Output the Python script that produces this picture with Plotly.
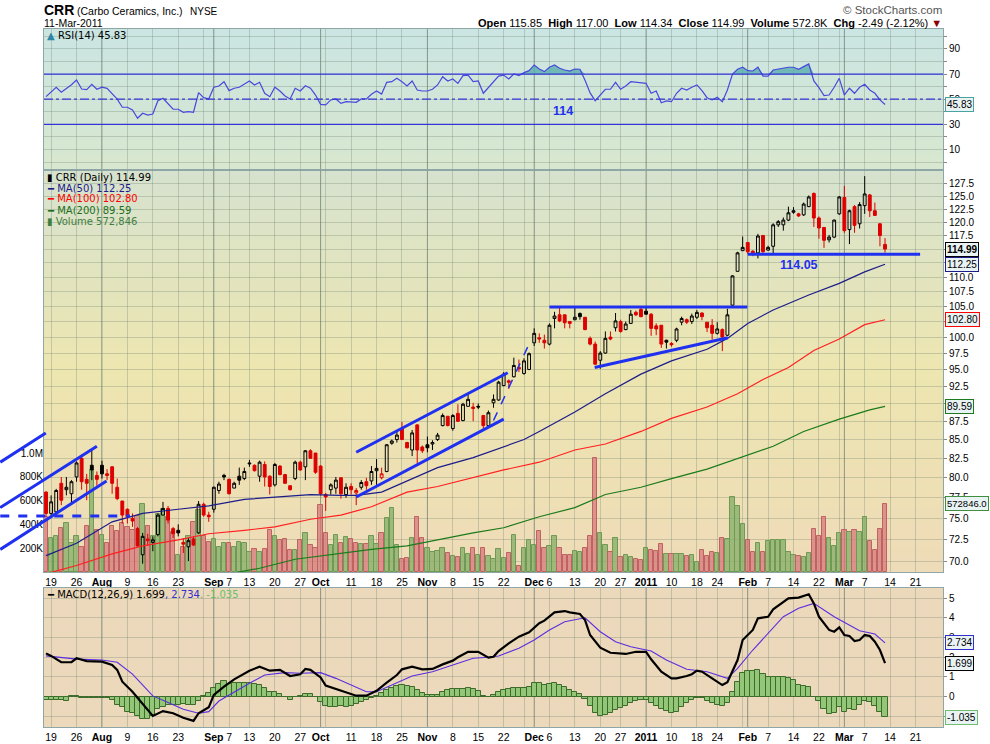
import numpy as np
import plotly.graph_objects as go

# CRR daily, trading-day index 0 = 16-Jul-2010 ... 165 = 11-Mar-2011
opens = [78.2, 75.6, 75.8, 79.3, 78.5, 78.0, 80.1, 82.5, 79.8, 81.6,
         80.3, 81.6, 80.5, 81.4, 78.8, 77.1, 76.1, 75.0, 73.8, 70.8,
         72.6, 72.2, 73.1, 75.4, 76.2, 73.8, 73.6, 72.2, 71.7, 72.6,
         73.3, 76.7, 75.4, 76.1, 78.4, 80.3, 79.8, 78.7, 80.2, 79.9,
         81.9, 81.6, 80.2, 81.7, 80.2, 79.1, 81.5, 80.4, 79.0, 79.9,
         82.0, 81.4, 83.5, 83.2, 81.5, 77.9, 78.5, 78.7, 80.0, 77.9,
         78.9, 78.1, 78.8, 79.5, 79.6, 80.9, 80.0, 80.8, 84.5, 85.0,
         86.5, 84.6, 83.6, 87.0, 84.0, 84.3, 84.4, 85.0, 86.9, 88.2,
         86.5, 88.6, 87.6, 89.6, 89.5, 89.6, 88.3, 86.9, 90.1, 90.5,
         92.6, 93.3, 93.9, 95.3, 94.4, 95.0, 99.1, 99.9, 99.5, 98.9,
         103.0, 103.6, 103.6, 102.5, 102.8, 103.8, 103.2, 99.8, 98.9, 96.4,
         97.5, 100.0, 101.5, 102.5, 101.2, 102.2, 104.0, 104.5, 104.2, 103.7,
         101.8, 101.9, 99.5, 99.0, 99.5, 102.4, 102.8, 102.5, 103.2, 103.9,
         102.4, 101.9, 100.6, 101.2, 100.3, 105.2, 111.0, 114.7, 116.2, 114.6,
         114.3, 117.5, 114.8, 115.5, 119.5, 119.5, 120.4, 121.9, 121.6, 121.4,
         123.0, 125.6, 120.8, 119.0, 116.7, 117.2, 121.6, 124.8, 118.6, 123.0,
         119.7, 123.2, 125.3, 122.2, 119.7, 115.85]
highs = [78.3, 77.8, 78.6, 80.1, 80.1, 79.7, 82.1, 83.0, 80.5, 83.5,
         80.8, 82.2, 81.1, 81.5, 79.9, 77.1, 76.2, 75.6, 74.0, 73.3,
         73.2, 72.9, 75.6, 77.0, 76.5, 74.0, 74.3, 72.7, 72.7, 72.9,
         77.1, 76.9, 75.8, 78.9, 79.5, 80.5, 79.9, 79.5, 81.3, 81.3,
         82.3, 81.7, 82.2, 82.1, 80.3, 81.9, 81.6, 80.5, 79.0, 82.2,
         82.2, 83.6, 83.7, 83.2, 81.6, 78.1, 79.3, 80.1, 80.0, 79.3,
         79.3, 78.7, 79.7, 80.0, 81.5, 82.4, 81.3, 84.4, 85.0, 86.2,
         87.4, 84.7, 86.3, 87.1, 84.2, 85.4, 84.9, 85.9, 88.6, 88.2,
         88.5, 89.9, 90.1, 91.3, 90.1, 90.0, 88.4, 89.0, 91.3, 93.3,
         94.6, 93.5, 96.8, 96.5, 96.7, 97.6, 101.4, 100.6, 100.4, 102.2,
         104.1, 104.8, 103.6, 102.6, 105.0, 104.0, 103.2, 100.1, 99.3, 97.8,
         100.9, 100.9, 103.9, 102.8, 102.5, 104.4, 104.3, 104.9, 104.9, 103.9,
         102.2, 101.9, 99.6, 99.2, 101.5, 103.3, 103.0, 103.8, 104.4, 104.0,
         102.4, 102.9, 102.4, 101.4, 104.6, 110.3, 114.5, 117.3, 116.2, 114.8,
         117.8, 117.5, 115.6, 119.8, 120.4, 120.9, 123.0, 122.9, 121.8, 123.8,
         125.2, 125.8, 121.1, 119.0, 117.6, 120.5, 125.1, 127.1, 122.4, 123.3,
         123.9, 129.1, 125.5, 123.8, 119.8, 117.00]
lows = [75.2, 75.3, 75.5, 76.6, 77.8, 76.8, 79.5, 78.5, 77.2, 79.7,
        79.0, 79.9, 79.7, 78.0, 77.2, 74.4, 74.4, 74.0, 71.7, 69.8,
        71.8, 71.2, 72.9, 75.4, 74.4, 72.7, 72.9, 71.0, 70.1, 71.8,
        73.2, 75.2, 74.6, 75.7, 78.0, 79.7, 77.9, 78.7, 79.1, 79.7,
        81.4, 80.8, 79.5, 78.9, 77.9, 78.9, 80.3, 79.3, 78.4, 79.7,
        80.9, 79.7, 82.5, 80.5, 77.8, 75.9, 77.9, 78.0, 77.4, 77.5,
        77.9, 76.6, 78.5, 78.5, 79.1, 79.1, 79.8, 80.7, 84.3, 84.6,
        85.0, 83.8, 82.8, 81.8, 83.2, 83.3, 83.6, 84.8, 86.8, 86.8,
        86.2, 87.4, 87.5, 89.6, 87.5, 89.2, 86.2, 86.8, 89.4, 90.4,
        92.5, 92.1, 93.8, 94.6, 94.2, 94.9, 98.6, 99.1, 98.2, 98.7,
        101.4, 102.4, 101.4, 101.4, 102.7, 102.8, 101.1, 98.7, 95.7, 95.1,
        97.4, 99.5, 100.9, 100.7, 101.1, 102.1, 103.4, 103.2, 103.7, 100.2,
        100.3, 98.3, 98.2, 98.5, 99.2, 101.9, 102.1, 102.1, 102.9, 102.7,
        100.8, 99.6, 100.4, 97.8, 100.2, 105.1, 111.0, 114.7, 114.1, 113.7,
        113.3, 114.3, 114.7, 114.1, 119.1, 118.4, 120.2, 121.6, 121.0, 121.2,
        122.9, 119.1, 116.9, 115.2, 116.2, 117.0, 121.4, 118.0, 115.9, 118.0,
        118.8, 121.6, 121.0, 121.2, 115.5, 114.34]
closes = [75.6, 77.0, 78.4, 77.2, 78.8, 79.5, 81.9, 79.5, 79.3, 81.0,
          79.8, 80.5, 80.3, 79.3, 77.4, 75.4, 75.2, 74.7, 71.8, 72.9,
          72.4, 72.5, 75.4, 76.2, 74.8, 73.2, 73.3, 72.0, 72.4, 71.9,
          76.7, 75.4, 75.2, 78.8, 79.2, 80.1, 78.0, 79.3, 79.7, 80.8,
          81.8, 80.9, 82.0, 80.1, 78.9, 81.7, 80.4, 79.3, 78.5, 82.0,
          81.0, 83.5, 82.5, 80.7, 78.0, 77.6, 79.1, 79.7, 78.0, 78.8,
          78.5, 78.4, 79.4, 79.0, 80.8, 81.2, 80.5, 84.3, 84.8, 85.6,
          85.0, 83.9, 85.9, 83.6, 83.5, 83.9, 84.6, 85.6, 88.3, 86.9,
          88.3, 87.5, 89.9, 90.6, 89.3, 89.5, 86.9, 88.7, 90.6, 93.1,
          94.3, 93.1, 95.6, 95.1, 96.3, 97.4, 100.6, 99.7, 99.1, 101.9,
          103.4, 102.6, 102.3, 102.2, 103.2, 103.3, 101.2, 98.9, 95.8, 97.5,
          99.8, 99.7, 102.6, 100.9, 102.1, 103.7, 103.6, 103.3, 103.7, 101.4,
          101.3, 98.9, 99.2, 98.8, 101.3, 103.0, 102.4, 103.4, 104.0, 103.3,
          101.5, 100.6, 101.3, 100.0, 103.6, 110.2, 114.3, 115.3, 114.5, 114.3,
          117.4, 114.5, 115.3, 119.5, 120.1, 120.4, 121.8, 122.2, 121.2, 123.5,
          124.9, 120.8, 118.9, 116.6, 117.2, 120.4, 124.9, 118.4, 122.2, 119.4,
          123.4, 125.5, 122.2, 121.3, 117.48, 114.99]
volume_k = [460, 290, 300, 370, 415, 240, 305, 210, 385, 860,
            350, 315, 245, 385, 345, 415, 375, 355, 470, 575,
            390, 300, 490, 530, 460, 335, 140, 210, 300, 420,
            520, 300, 250, 275, 210, 245, 240, 210, 250, 245,
            170, 190, 170, 195, 350, 300, 265, 280, 185, 185,
            270, 325, 225, 200, 565, 330, 225, 315, 240, 298,
            278, 244, 238, 238, 306, 238, 326, 451, 536, 226,
            113, 120, 290, 462, 290, 198, 164, 175, 200, 160,
            136, 130, 198, 155, 198, 145, 205, 136, 110, 190,
            120, 157, 312, 51, 198, 270, 230, 343, 198, 220,
            300, 205, 145, 145, 175, 170, 205, 306, 960, 329,
            227, 165, 290, 130, 145, 125, 110, 102, 201, 185,
            180, 236, 151, 151, 151, 151, 137, 145, 80, 188,
            137, 171, 159, 287, 278, 627, 553, 406, 270, 171,
            242, 171, 264, 270, 270, 270, 171, 145, 137, 122,
            159, 363, 306, 463, 287, 222, 329, 349, 340, 349,
            335, 463, 264, 188, 363, 572.846]

# moving averages, read at sparse points (day index, value)
ma50_x = [0, 6, 13, 19, 26, 32, 39, 45, 52, 58, 61, 66, 71, 77, 84, 90, 94, 97, 104, 110,
          117, 123, 130, 134, 138, 143, 150, 156, 161, 165]
ma50_y = [70.7, 72.1, 74.6, 75.6, 76.1, 76.5, 77.3, 77.6, 77.9, 77.8, 77.8, 78.2, 79.6, 81.3,
          82.6, 84.0, 85.0, 86.1, 88.8, 91.4, 94.3, 96.3, 98.1, 99.8, 102.2, 104.4, 106.9,
          108.9, 110.9, 112.25]
ma100_x = [0, 6, 13, 19, 26, 32, 39, 45, 52, 58, 64, 71, 77, 84, 90, 97, 104, 110, 117,
           123, 130, 136, 141, 146, 151, 156, 161, 165]
ma100_y = [68.7, 69.6, 70.9, 71.8, 72.5, 73.2, 73.6, 74.0, 74.9, 75.4, 76.4, 78.2, 78.9,
           80.0, 81.0, 82.0, 83.6, 84.4, 86.1, 87.9, 89.5, 91.4, 93.5, 95.3, 97.9, 99.7,
           102.0, 102.8]
ma200_x = [36, 42, 49, 58, 64, 71, 77, 84, 90, 97, 104, 110, 117, 123, 130, 136, 143, 149,
           156, 162, 165]
ma200_y = [68.7, 69.3, 70.3, 71.0, 71.4, 71.8, 72.5, 73.3, 73.9, 75.2, 76.3, 77.9, 78.8,
           79.9, 81.1, 82.5, 84.1, 86.1, 87.8, 89.1, 89.59]

rsi = [52.0, 55.5, 59.5, 55.5, 58.5, 61.5, 65.3, 58.1, 57.6, 61.8,
       57.9, 59.5, 58.6, 54.5, 50.0, 43.6, 43.6, 41.4, 34.8, 38.8,
       37.4, 38.2, 48.8, 50.7, 46.0, 42.0, 42.0, 39.6, 40.1, 39.6,
       55.2, 51.2, 50.2, 59.5, 60.5, 63.9, 56.8, 58.7, 59.5, 62.0,
       64.5, 61.3, 63.4, 54.7, 52.0, 59.5, 56.5, 52.5, 50.2, 58.7,
       56.5, 60.7, 58.7, 53.3, 45.9, 45.4, 49.4, 50.2, 46.7, 48.0,
       47.8, 47.5, 50.2, 50.2, 53.9, 56.5, 54.1, 63.4, 63.9, 66.6,
       63.9, 60.5, 64.5, 57.3, 56.5, 56.5, 57.9, 61.3, 67.9, 64.5,
       66.1, 62.6, 68.7, 69.2, 63.9, 64.5, 54.7, 59.2, 63.5, 68.4,
       69.2, 66.1, 70.0, 68.7, 71.1, 72.7, 77.2, 74.0, 71.9, 75.4,
       77.2, 74.6, 73.2, 72.4, 74.0, 73.8, 65.0, 55.0, 48.8, 53.3,
       57.9, 57.9, 63.4, 57.9, 60.5, 63.9, 63.5, 63.0, 62.6, 54.7,
       56.5, 47.2, 48.6, 48.0, 54.7, 58.7, 57.3, 59.5, 61.3, 56.8,
       51.2, 49.4, 51.5, 48.0, 57.3, 70.0, 73.8, 75.4, 72.7, 72.4,
       75.4, 68.4, 68.4, 73.2, 74.0, 74.6, 75.4, 75.4, 73.8, 75.9,
       78.0, 64.5, 59.2, 52.8, 53.3, 59.5, 66.6, 53.3, 58.7, 54.7,
       59.5, 61.8, 57.3, 54.7, 49.4, 45.83]

macd_x = [0, 1, 3, 5, 6, 8, 11, 13, 14, 15, 17, 19, 21, 23, 25, 27, 29, 30, 32, 33,
          35, 37, 40, 42, 44, 46, 48, 50, 51, 52, 54, 55, 58, 61, 63, 65, 67, 69, 70, 72,
          74, 76, 78, 80, 81, 83, 85, 87, 88, 89, 91, 93, 95, 97, 98, 100, 102, 103, 105, 106,
          107, 109, 111, 114, 116, 118, 119, 121, 123, 124, 126, 127, 128, 129, 131, 133, 134, 136, 137, 139,
          140, 142, 143, 145, 146, 148, 150, 151, 152, 154, 155, 156, 157, 158, 159, 160, 161, 162, 163, 164,
          165]
macd_y = [2.20, 2.07, 1.75, 1.75, 1.95, 1.81, 1.78, 1.61, 1.36, 0.76, 0.25, -0.34, -0.98, -0.73,
          -0.84, -1.07, -1.23, -0.84, -0.54, 0.09, 0.51, 0.88, 1.32, 1.52, 1.32, 1.36, 1.05,
          1.14, 1.41, 1.36, 0.98, 0.56, 0.30, 0.05, 0.05, 0.30, 0.71, 1.10, 1.39, 1.52, 1.39,
          1.41, 1.64, 1.83, 2.00, 2.28, 2.28, 1.98, 2.03, 2.32, 2.71, 3.05, 3.27, 3.73, 3.86,
          4.28, 4.35, 4.28, 4.20, 3.89, 3.13, 2.49, 2.23, 2.17, 2.28, 2.28, 1.90, 1.27, 0.93,
          0.93, 1.05, 1.14, 1.32, 1.27, 0.93, 0.59, 0.73, 1.86, 2.88, 3.39, 3.98, 4.06, 4.44,
          4.82, 4.99, 5.03, 5.20, 4.74, 4.06, 3.39, 3.30, 3.52, 3.13, 3.08, 2.83, 2.88, 3.13,
          3.08, 2.79, 2.37, 1.699]
signal_x = [0, 6, 11, 14, 17, 21, 24, 27, 30, 32, 34, 37, 40, 43, 47, 50, 54, 57, 60, 63,
            65, 68, 72, 76, 79, 84, 87, 89, 93, 96, 99, 102, 106, 109, 112, 115, 119, 122, 126, 130,
            134, 136, 139, 142, 145, 148, 151, 155, 158, 160, 163, 165]
signal_y = [2.07, 1.91, 1.86, 1.75, 1.15, 0.04, -0.30, -0.64, -0.84, -0.76, -0.22, 0.25, 0.68,
            1.10, 1.22, 1.19, 1.22, 0.93, 0.59, 0.25, 0.25, 0.59, 1.05, 1.27, 1.52, 1.95, 2.00,
            2.07, 2.46, 2.88, 3.39, 3.81, 4.01, 3.30, 2.79, 2.54, 2.32, 1.86, 1.39, 1.27, 0.93,
            1.44, 2.37, 3.22, 4.06, 4.49, 4.74, 4.06, 3.64, 3.35, 3.18, 2.734]
hist = [-0.17, -0.17, -0.17, -0.17, -0.20, 0.03, 0.03, -0.08, -0.08, -0.08,
        -0.08, -0.08, -0.08, -0.17, -0.42, -0.50, -0.76, -0.85, -1.00, -1.13,
        -1.13, -0.96, -0.64, -0.50, -0.42, -0.42, -0.42, -0.39, -0.42, -0.42,
        -0.20, 0.03, 0.20, 0.42, 0.63, 0.80, 0.63, 0.68, 0.68, 0.68,
        0.68, 0.63, 0.59, 0.42, 0.22, 0.22, 0.12, -0.03, -0.17, -0.03,
        0.05, 0.12, 0.12, 0.00, -0.29, -0.47, -0.51, -0.51, -0.47, -0.51,
        -0.46, -0.37, -0.25, -0.17, -0.08, 0.03, 0.20, 0.34, 0.42, 0.54,
        0.59, 0.56, 0.47, 0.34, 0.20, 0.08, 0.08, 0.08, 0.25, 0.34,
        0.37, 0.37, 0.39, 0.46, 0.37, 0.30, 0.03, 0.00, 0.08, 0.25,
        0.34, 0.37, 0.42, 0.42, 0.42, 0.51, 0.68, 0.68, 0.59, 0.63,
        0.68, 0.59, 0.47, 0.34, 0.22, 0.12, -0.14, -0.47, -0.85, -0.98,
        -0.93, -0.81, -0.68, -0.59, -0.47, -0.30, -0.20, -0.17, -0.17, -0.34,
        -0.47, -0.64, -0.71, -0.85, -0.76, -0.51, -0.34, -0.17, -0.05, -0.08,
        -0.20, -0.34, -0.42, -0.47, -0.30, 0.25, 0.76, 1.18, 1.30, 1.30,
        1.35, 1.15, 1.02, 0.98, 0.98, 0.98, 0.93, 0.85, 0.59, 0.54,
        0.47, 0.00, -0.20, -0.64, -0.90, -0.85, -0.51, -0.76, -0.64, -0.68,
        -0.42, -0.22, -0.25, -0.46, -0.76, -1.035]

# x axis: weekly grid, month labels in bold
tick_idx = [1, 6, 11, 16, 21, 26, 31, 33, 36, 40, 45, 50, 54, 55, 60, 65, 70, 75, 80, 85,
            90, 94, 96, 99, 104, 109, 113, 118, 123, 128, 132, 137, 138, 142, 147, 152, 156, 157,
            161, 166, 171]
tick_txt = ["19", "26", "<b>Aug</b>", "9", "16", "23", "", "<b>Sep</b>", "7", "13", "20", "27",
            "<b>Oct</b>", "", "11", "18", "25", "<b>Nov</b>", "8", "15", "22", "", "<b>Dec</b>",
            "6", "13", "20", "27", "<b>2011</b>", "10", "18", "24", "", "<b>Feb</b>", "7", "14",
            "22", "", "<b>Mar</b>", "7", "14", "21"]
month_idx = [11, 33, 54, 75, 96, 118, 138, 157]

# right-hand price labels (those hidden behind the value tags are left blank)
price_ticks = [70 + 2.5 * k for k in range(24)]
price_hidden = [115.0, 112.5, 102.5]

# trendlines drawn on the chart: (day0, price0, day1, price1, dash, width)
trendlines = [
    (-9.0, 82.0, -0.05, 85.9, "solid", 3),
    (-9.0, 76.3, 10.0, 84.1, "solid", 3),
    (-9.0, 71.4, 11.9, 79.6, "solid", 3),
    (-9.0, 75.3, 16.5, 75.3, "dash", 3),
    (61.0, 83.3, 90.8, 94.5, "solid", 3),
    (61.0, 77.6, 90.0, 87.8, "solid", 3),
    (88.0, 87.6, 95.1, 99.1, "dash", 1.5),
    (99.0, 104.9, 137.9, 104.9, "solid", 3),
    (107.9, 95.3, 134.1, 99.9, "solid", 3),
    (138.0, 114.05, 171.9, 114.05, "solid", 3),
]

# ---- geometry ----
X0, X1 = -0.4, 176.4
def py2y(py):
    return (727 - py) / 698.0
def px2x(px):
    return (px - 44) / 899.0
def xp(i):
    return (i - X0) / (X1 - X0)

RSI_D = [py2y(170), 1.0]
MAIN_D = [py2y(572), py2y(170)]
MACD_D = [0.0, py2y(588)]
L0, L1 = np.log10(68.89), np.log10(130.36)
def price_paper(p):
    return MAIN_D[0] + (np.log10(p) - L0) / (L1 - L0) * (MAIN_D[1] - MAIN_D[0])

BLUE = "#1f30f0"
GRID = "rgba(105,125,110,0.30)"
MONTH = "rgba(95,115,105,0.55)"
BORDER = "#8ea6a6"
FONT = "Liberation Sans"
LFONT = "DejaVu Sans"

day = np.arange(len(closes))
c = np.array(closes)
prev = np.r_[np.inf, c[:-1]]
is_red = c < prev

fig = go.Figure()

# volume (base axis of main panel)
vol_fill = np.where(is_red, "rgba(214,118,120,0.72)", "rgba(128,172,98,0.72)")
vol_edge = np.where(is_red, "#c06262", "#6f9a55")
fig.add_trace(go.Bar(x=day, y=np.array(volume_k) * 1000, xaxis="x2", yaxis="y2", width=0.85,
                     marker=dict(color=vol_fill, line=dict(color=vol_edge, width=1)),
                     hoverinfo="skip"))

# moving averages
fig.add_trace(go.Scatter(x=ma200_x, y=ma200_y, xaxis="x2", yaxis="y3", mode="lines",
                         line=dict(color="#1b7a1b", width=1.2), hoverinfo="skip"))
fig.add_trace(go.Scatter(x=ma100_x, y=ma100_y, xaxis="x2", yaxis="y3", mode="lines",
                         line=dict(color="#ff2020", width=1.2), hoverinfo="skip"))
fig.add_trace(go.Scatter(x=ma50_x, y=ma50_y, xaxis="x2", yaxis="y3", mode="lines",
                         line=dict(color="#1c1c8a", width=1.2), hoverinfo="skip"))

# candles: red when close < previous close, filled when close < open
for mask, col in [(is_red, "#dd0000"), (~is_red, "#000000")]:
    fig.add_trace(go.Candlestick(
        x=day[mask], open=np.array(opens)[mask], high=np.array(highs)[mask],
        low=np.array(lows)[mask], close=c[mask], xaxis="x2", yaxis="y3",
        increasing=dict(line=dict(color=col, width=1), fillcolor="rgba(0,0,0,0)"),
        decreasing=dict(line=dict(color=col, width=1), fillcolor=col),
        whiskerwidth=0, hoverinfo="skip"))

# RSI
r = np.array(rsi)
fig.add_trace(go.Scatter(x=day, y=np.full(len(r), 70.0), xaxis="x", yaxis="y", mode="lines",
                         line=dict(width=0), hoverinfo="skip"))
fig.add_trace(go.Scatter(x=day, y=np.maximum(r, 70), xaxis="x", yaxis="y", mode="lines",
                         line=dict(width=0), fill="tonexty", fillcolor="rgba(80,170,170,0.75)",
                         hoverinfo="skip"))
fig.add_trace(go.Scatter(x=day, y=r, xaxis="x", yaxis="y", mode="lines",
                         line=dict(color="#4848dd", width=1.2), hoverinfo="skip"))

# MACD
fig.add_trace(go.Bar(x=day, y=hist, xaxis="x3", yaxis="y4", width=1.0,
                     marker=dict(color="#93c676", line=dict(color="#3c6b2c", width=1)),
                     hoverinfo="skip"))
fig.add_trace(go.Scatter(x=signal_x, y=signal_y, xaxis="x3", yaxis="y4", mode="lines",
                         line=dict(color="#5a2ee0", width=1.1), hoverinfo="skip"))
fig.add_trace(go.Scatter(x=macd_x, y=macd_y, xaxis="x3", yaxis="y4", mode="lines",
                         line=dict(color="#000000", width=2.2), hoverinfo="skip"))

# ---- background gradients ----
def mix(stops, t):
    for (t0, c0), (t1, c1) in zip(stops[:-1], stops[1:]):
        if t <= t1:
            f = (t - t0) / (t1 - t0)
            return "rgb(%d,%d,%d)" % tuple(round(a + (b - a) * f) for a, b in zip(c0, c1))
    return "rgb(%d,%d,%d)" % stops[-1][1]

def bands(dom, stops, n):
    out = []
    h = dom[1] - dom[0]
    for k in range(n):
        y1 = dom[1] - h * k / n
        y0 = dom[1] - h * (k + 1) / n
        out.append(dict(type="rect", xref="paper", yref="paper", x0=0, x1=1, y0=y0,
                        y1=min(dom[1], y1 + 0.002), fillcolor=mix(stops, (k + 0.5) / n),
                        line=dict(width=0), layer="below"))
    return out

shapes = []
shapes += bands(RSI_D, [(0, (202, 229, 226)), (1, (216, 231, 207))], 20)
shapes += bands(MAIN_D, [(0, (214, 226, 207)), (0.5, (237, 230, 176)), (1, (238, 219, 184))], 50)
shapes += bands(MACD_D, [(0, (236, 217, 186)), (1, (236, 215, 187))], 1)

for m in month_idx:
    for dom in (RSI_D, MAIN_D, MACD_D):
        shapes.append(dict(type="line", xref="paper", yref="paper", x0=xp(m), x1=xp(m),
                           y0=dom[0], y1=dom[1], line=dict(color=MONTH, width=1), layer="below"))

for lvl, dash in [(70, "solid"), (30, "solid"), (50, "dashdot")]:
    shapes.append(dict(type="line", xref="paper", yref="y", x0=0, x1=1, y0=lvl, y1=lvl,
                       line=dict(color="#3434d8", width=1.2, dash=dash)))

for d0, p0, d1, p1, dash, w in trendlines:
    shapes.append(dict(type="line", xref="paper", yref="paper", x0=xp(d0), y0=price_paper(p0),
                       x1=xp(d1), y1=price_paper(p1), line=dict(color=BLUE, width=w, dash=dash)))

# ---- texts ----
ann = []
def text(px, py, s, size=10, color="#000", anchor="left", family=FONT):
    ann.append(dict(x=px2x(px), y=py2y(py), xref="paper", yref="paper", text=s, showarrow=False,
                    xanchor=anchor, yanchor="middle", borderpad=0,
                    font=dict(size=size, color=color, family=family)))

text(43, 10, "<b>CRR</b>", 14)
text(76, 11, "(Carbo Ceramics, Inc.)", 10.5)
text(189, 11, "NYSE", 10)
text(43, 23, "11-Mar-2011", 10.5)
text(943, 10, "© StockCharts.com", 11.5, "#555", "right")
text(943, 23, "<b>Open</b> 115.85  <b>High</b> 117.00  <b>Low</b> 114.34  <b>Close</b> 114.99  "
     "<b>Volume</b> 572.8K  <b>Chg</b> -2.49 (-2.12%) <span style='color:#8b0000'>▼</span>",
     11, "#000", "right")

text(46, 36, "<span style='color:#2f86a6'>▲</span> RSI(14) 45.83", 10, family=LFONT)
text(46, 177, "▮ CRR (Daily) 114.99", 10, family=LFONT)
text(46, 188, "<span style='color:#1c1c8a'>━ MA(50) 112.25</span>", 10, family=LFONT)
text(46, 199, "<span style='color:#ff0000'>━ MA(100) 102.80</span>", 10, family=LFONT)
text(46, 210, "<span style='color:#1b6e1b'>━ MA(200) 89.59</span>", 10, family=LFONT)
text(46, 221, "<span style='color:#3f7f3f'>▮ Volume 572,846</span>", 10, family=LFONT)
text(46, 594, "━ MACD(12,26,9) 1.699<span style='color:#3030d0'>, 2.734</span>"
     "<span style='color:#6cbf6c'>, -1.035</span>", 10, family=LFONT)

ann.append(dict(x=148, y=np.log10(112.1), xref="x2", yref="y3", text="<b>114.05</b>",
                showarrow=False, font=dict(size=12.5, color=BLUE, family=FONT)))
ann.append(dict(x=101.6, y=40.6, xref="x", yref="y", text="<b>114</b>",
                showarrow=False, font=dict(size=12.5, color=BLUE, family=FONT)))

def tag(s, y, yref, border, size=10):
    ann.append(dict(x=1, xref="paper", xanchor="left", xshift=2, y=y, yref=yref, text=s,
                    showarrow=False, bgcolor="#e9f3f4", bordercolor=border, borderwidth=1,
                    borderpad=1, font=dict(size=size, color="#000", family=FONT)))

tag("<b>114.99</b>", np.log10(114.99), "y3", "#000000")
tag("112.25", np.log10(112.25), "y3", "#1c1c8a")
tag("102.80", np.log10(102.80), "y3", "#ff0000")
tag("89.59", np.log10(89.59), "y3", "#1b7a1b")
tag("572846.0", 572846, "y2", "#3f8f3f", 9.5)
tag("45.83", 45.83, "y", "#4aa3a3")
tag("2.734", 2.734, "y4", "#3030d0")
tag("1.699", 1.699, "y4", "#000000")
tag("-1.035", -1.035, "y4", "#6cbf6c")

# ---- axes ----
tickfont = dict(size=10, color="#000", family=FONT)
xcommon = dict(range=[X0, X1], tickvals=tick_idx, ticktext=tick_txt, gridcolor=GRID,
               showline=True, mirror=True, linecolor=BORDER, zeroline=False, ticks="",
               tickfont=dict(size=10.5, color="#000", family=FONT), rangeslider=dict(visible=False),
               domain=[0, 1], automargin=False)
ycommon = dict(side="right", gridcolor=GRID, showline=True, mirror=True, linecolor=BORDER,
               zeroline=False, ticks="outside", ticklen=3, tickcolor="#888", tickfont=tickfont,
               automargin=False)

fig.update_layout(
    width=990, height=744, margin=dict(l=44, r=47, t=29, b=17, autoexpand=False),
    paper_bgcolor="white", plot_bgcolor="rgba(0,0,0,0)", showlegend=False,
    boxgap=0.2, bargap=0, shapes=shapes, annotations=ann,
    xaxis=dict(xcommon, anchor="y", showticklabels=False),
    xaxis2=dict(xcommon, anchor="y2", matches="x"),
    xaxis3=dict(xcommon, anchor="y4", matches="x"),
    yaxis=dict(ycommon, domain=RSI_D, range=[-6.3, 105.8], anchor="x",
               tickvals=list(range(0, 101, 10)),
               ticktext=["", "10", "", "30", "", "50", "", "70", "", "90", ""]),
    yaxis2=dict(domain=MAIN_D, range=[0, 3.38e6], anchor="x2", side="left", showgrid=False,
                zeroline=False, showline=False, ticks="", tickfont=tickfont, automargin=False,
                tickvals=[2e5, 4e5, 6e5, 8e5, 1e6], ticktext=["200K", "400K", "600K", "800K", "1.0M"]),
    yaxis3=dict(ycommon, overlaying="y2", anchor="x2", type="log", range=[L0, L1],
                tickvals=price_ticks,
                ticktext=["" if v in price_hidden else "%.1f" % v for v in price_ticks]),
    yaxis4=dict(ycommon, domain=MACD_D, range=[-1.54, 5.52], anchor="x3",
                tickvals=list(range(-1, 6)), ticktext=[""] + [str(v) for v in range(0, 6)]),
)

# page body has a default margin; remove it so the chart sits at the window's corner
fig.write_html("out.html", config={"displayModeBar": False},
               post_script="document.body.style.margin='0px';")
